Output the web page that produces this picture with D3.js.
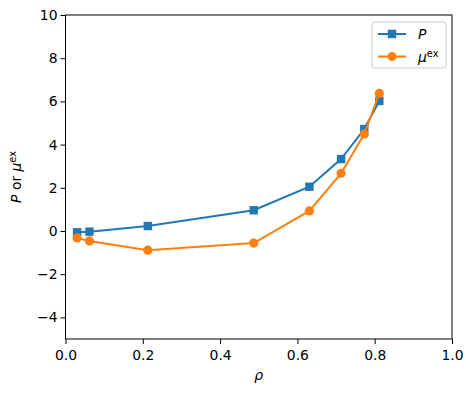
<!DOCTYPE html>
<html>
<head>
<meta charset="utf-8">
<script src="https://cdn.jsdelivr.net/npm/d3@7"></script>
<style>
  body { margin: 0; background: #fff; }
  svg text { font-family: "DejaVu Sans", sans-serif; }
</style>
</head>
<body>
<svg id="chart" width="473" height="393"></svg>
<script>
// density values
const rho = [0.03, 0.062, 0.213, 0.487, 0.631, 0.713, 0.773, 0.812];
// pressure
const pressure = [-0.06, -0.03, 0.23, 0.96, 2.05, 3.33, 4.72, 6.02];
// excess chemical potential
const muEx = [-0.32, -0.46, -0.89, -0.56, 0.93, 2.67, 4.49, 6.37];
const xTicks = [0, 0.2, 0.4, 0.6, 0.8, 1.0];
const yTicks = [-4, -2, 0, 2, 4, 6, 8, 10];

const svg = d3.select("#chart");
const margin = { left: 65.5, right: 21, top: 15, bottom: 54 };
const width = 473, height = 393;

const x = d3.scaleLinear().domain([0, 1]).range([margin.left, width - margin.right]);
const y = d3.scaleLinear().domain([-5, 10]).range([height - margin.bottom, margin.top]);

// axes
const xAxis = svg.append("g")
    .attr("transform", `translate(0,${height - margin.bottom})`)
    .call(d3.axisBottom(x).tickValues(xTicks).tickFormat(d3.format(".1f")).tickSizeOuter(0).tickSize(5));
const yAxis = svg.append("g")
    .attr("transform", `translate(${margin.left},0)`)
    .call(d3.axisLeft(y).tickValues(yTicks).tickFormat(d => d < 0 ? "\u2212" + Math.abs(d) : d).tickSizeOuter(0).tickSize(5));

[xAxis, yAxis].forEach(a => {
    a.selectAll("text").style("font-size", "13.9px").attr("fill", "#000");
    a.selectAll("line").attr("stroke", "#000").attr("stroke-width", 1);
    a.select(".domain").remove();
});
xAxis.selectAll("text").attr("dy", "0.95em").attr("y", 8);
yAxis.selectAll("text").attr("x", -8);

// frame
svg.append("rect")
    .attr("x", margin.left).attr("y", margin.top)
    .attr("width", width - margin.left - margin.right)
    .attr("height", height - margin.top - margin.bottom)
    .attr("fill", "none").attr("stroke", "#000").attr("stroke-width", 1);

const line = d3.line().x(d => x(d[0])).y(d => y(d[1]));

const series = [
    { name: "P", values: pressure, color: "#1f77b4", marker: "square" },
    { name: "mu", values: muEx, color: "#ff7f0e", marker: "circle" }
];

function drawMarker(g, type, cx, cy, color) {
    if (type === "square") {
        g.append("rect").attr("x", cx - 4.2).attr("y", cy - 4.2)
            .attr("width", 8.4).attr("height", 8.4).attr("fill", color);
    } else {
        g.append("circle").attr("cx", cx).attr("cy", cy).attr("r", 4.6).attr("fill", color);
    }
}

series.forEach(s => {
    const pts = rho.map((r, i) => [r, s.values[i]]);
    const g = svg.append("g");
    g.append("path").datum(pts)
        .attr("d", line).attr("fill", "none")
        .attr("stroke", s.color).attr("stroke-width", 2);
    pts.forEach(p => drawMarker(g, s.marker, x(p[0]), y(p[1]), s.color));
});

// axis labels
svg.append("text")
    .attr("x", x(0.5)).attr("y", 380)
    .attr("text-anchor", "middle").style("font-size", "13.9px")
    .style("font-style", "italic").text("\u03c1");

const yl = svg.append("text")
    .attr("transform", `translate(21,${y(2.5)}) rotate(-90)`)
    .attr("text-anchor", "middle").style("font-size", "13.9px");
yl.append("tspan").style("font-style", "italic").text("P");
yl.append("tspan").text(" or ");
yl.append("tspan").style("font-style", "italic").text("\u03bc");
yl.append("tspan").attr("dy", -5).style("font-size", "9.7px").text("ex");

// legend
const lg = svg.append("g").attr("transform", "translate(372,22)");
lg.append("rect").attr("width", 74).attr("height", 46).attr("rx", 3)
    .attr("fill", "#fff").attr("stroke", "#ccc").attr("stroke-width", 1);
series.forEach((s, i) => {
    const cy = 12 + i * 22.5;
    lg.append("line").attr("x1", 6).attr("x2", 34).attr("y1", cy).attr("y2", cy)
        .attr("stroke", s.color).attr("stroke-width", 2);
    drawMarker(lg, s.marker, 20, cy, s.color);
    const t = lg.append("text").attr("x", 46).attr("y", cy + 5).style("font-size", "13.9px");
    if (s.name === "P") {
        t.append("tspan").style("font-style", "italic").text("P");
    } else {
        t.append("tspan").style("font-style", "italic").text("\u03bc");
        t.append("tspan").attr("dy", -5).style("font-size", "9.7px").text("ex");
    }
});
</script>
</body>
</html>
